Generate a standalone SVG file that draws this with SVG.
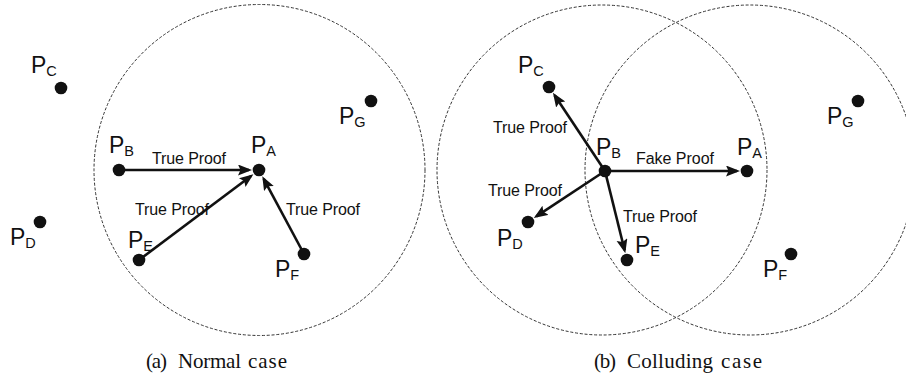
<svg xmlns="http://www.w3.org/2000/svg" width="906" height="381" viewBox="0 0 906 381">
<defs>
<marker id="ah" markerUnits="userSpaceOnUse" markerWidth="16" markerHeight="12" refX="11" refY="5.5" orient="auto">
<path d="M0,0 L14,5.5 L0,11 L2.5,5.5 z" fill="#111"/>
</marker>
</defs>
<style>
.range{fill:none;stroke:#333;stroke-width:1;stroke-dasharray:3,1.8}
.dot{fill:#111}
.lbl{font-family:"Liberation Sans",Arial,sans-serif;font-size:23px;fill:#111}
.sub{font-size:14.5px}
.edge{stroke:#111;stroke-width:2.6;fill:none;marker-end:url(#ah)}
.el{font-family:"Liberation Sans",Arial,sans-serif;font-size:16px;fill:#111}
.cap{font-family:"Liberation Serif","Times New Roman",serif;font-size:21px;fill:#111}
</style>
<rect width="906" height="381" fill="#fff"/>

<!-- ranges -->
<g id="ranges">
<circle class="range" cx="259.5" cy="170" r="165.5"/>
<circle class="range" cx="602" cy="170" r="165"/>
<circle class="range" cx="750" cy="170" r="165"/>
</g>

<!-- connectors -->
<g id="connectors">
<line class="edge" x1="119" y1="170" x2="249" y2="170"/>
<line class="edge" x1="139" y1="260" x2="251" y2="176"/>
<line class="edge" x1="304" y1="254" x2="263.7" y2="178.8"/>
<line class="edge" x1="605" y1="171" x2="737" y2="171"/>
<line class="edge" x1="605" y1="171" x2="554.6" y2="95.3"/>
<line class="edge" x1="605" y1="171" x2="536.3" y2="216.4"/>
<line class="edge" x1="605" y1="171" x2="624.6" y2="250.3"/>
<text class="el" x="152" y="164" textLength="74">True Proof</text>
<text class="el" x="135" y="215" textLength="74">True Proof</text>
<text class="el" x="286" y="215" textLength="74">True Proof</text>
<text class="el" x="493" y="133" textLength="74">True Proof</text>
<text class="el" x="636" y="164" textLength="78">Fake Proof</text>
<text class="el" x="488" y="196" textLength="74">True Proof</text>
<text class="el" x="623" y="222" textLength="74">True Proof</text>
</g>

<!-- (a) normal case -->
<g id="a-PA"><circle class="dot" cx="259" cy="170" r="6.3"/><text class="lbl" x="251" y="153">P<tspan class="sub" dy="3">A</tspan></text></g>
<g id="a-PB"><circle class="dot" cx="119" cy="170" r="6.3"/><text class="lbl" x="109" y="153">P<tspan class="sub" dy="3">B</tspan></text></g>
<g id="a-PC"><circle class="dot" cx="61" cy="88" r="6.3"/><text class="lbl" x="31" y="73">P<tspan class="sub" dy="3">C</tspan></text></g>
<g id="a-PD"><circle class="dot" cx="40" cy="222" r="6.3"/><text class="lbl" x="10" y="245">P<tspan class="sub" dy="3">D</tspan></text></g>
<g id="a-PE"><circle class="dot" cx="139" cy="260" r="6.3"/><text class="lbl" x="128" y="248">P<tspan class="sub" dy="3">E</tspan></text></g>
<g id="a-PF"><circle class="dot" cx="304" cy="254" r="6.3"/><text class="lbl" x="275" y="277">P<tspan class="sub" dy="3">F</tspan></text></g>
<g id="a-PG"><circle class="dot" cx="371" cy="101" r="6.3"/><text class="lbl" x="339" y="124">P<tspan class="sub" dy="3">G</tspan></text></g>

<!-- (b) colluding case -->
<g id="b-PA"><circle class="dot" cx="747" cy="171" r="6.3"/><text class="lbl" x="737" y="155">P<tspan class="sub" dy="3">A</tspan></text></g>
<g id="b-PB"><circle class="dot" cx="605" cy="171" r="6.3"/><text class="lbl" x="596" y="155">P<tspan class="sub" dy="3">B</tspan></text></g>
<g id="b-PC"><circle class="dot" cx="549" cy="87" r="6.3"/><text class="lbl" x="518" y="73">P<tspan class="sub" dy="3">C</tspan></text></g>
<g id="b-PD"><circle class="dot" cx="528" cy="222" r="6.3"/><text class="lbl" x="497" y="246">P<tspan class="sub" dy="3">D</tspan></text></g>
<g id="b-PE"><circle class="dot" cx="627" cy="260" r="6.3"/><text class="lbl" x="635" y="253">P<tspan class="sub" dy="3">E</tspan></text></g>
<g id="b-PF"><circle class="dot" cx="791" cy="254" r="6.3"/><text class="lbl" x="763" y="277">P<tspan class="sub" dy="3">F</tspan></text></g>
<g id="b-PG"><circle class="dot" cx="858" cy="101" r="6.3"/><text class="lbl" x="827" y="124">P<tspan class="sub" dy="3">G</tspan></text></g>

<!-- captions -->
<g id="captions">
<text class="cap" y="368"><tspan x="146" textLength="21">(a)</tspan><tspan x="178" textLength="63">Normal</tspan><tspan x="248" textLength="39">case</tspan></text>
<text class="cap" y="368"><tspan x="594" textLength="22">(b)</tspan><tspan x="627" textLength="86">Colluding</tspan><tspan x="721" textLength="41">case</tspan></text>
</g>
</svg>
